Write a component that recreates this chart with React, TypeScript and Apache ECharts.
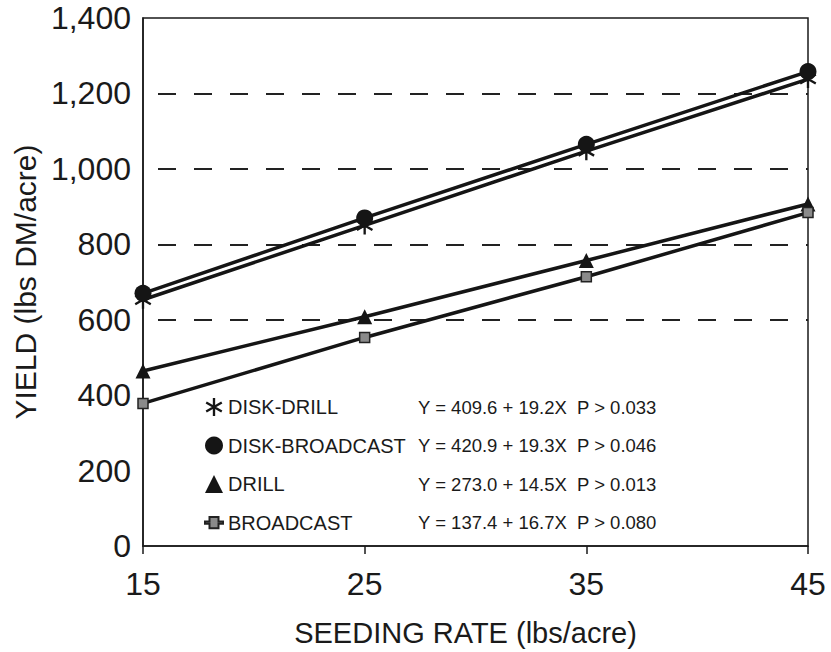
import React, { useEffect, useRef } from "react";
import * as echarts from "echarts";

const xValues = [15, 25, 35, 45];
const seriesNames = ["DISK-DRILL", "DISK-BROADCAST", "DRILL", "BROADCAST"];
const diskDrill = [653, 850, 1047, 1238];
const diskBroadcast = [670, 870, 1065, 1258];
const drill = [464, 608, 757, 907];
const broadcast = [378, 553, 714, 884];
const equations = [
  "Y = 409.6 + 19.2X",
  "Y = 420.9 + 19.3X",
  "Y = 273.0 + 14.5X",
  "Y = 137.4 + 16.7X",
];
const pValues = ["P > 0.033", "P > 0.046", "P > 0.013", "P > 0.080"];
const gridValues = [600, 800, 1000, 1200];

function asteriskPath(): string {
  const L = 10;
  const w = 1.3;
  const parts: string[] = [];
  [90, 30, 150].forEach((deg) => {
    const a = (deg * Math.PI) / 180;
    const dx = Math.cos(a), dy = Math.sin(a);
    const px = -dy * w, py = dx * w;
    const pts = [
      [L * dx + px, L * dy + py],
      [-L * dx + px, -L * dy + py],
      [-L * dx - px, -L * dy - py],
      [L * dx - px, L * dy - py],
    ].map(([x, y]) => `${(x + 12).toFixed(2)},${(y + 12).toFixed(2)}`);
    parts.push(`M${pts[0]} L${pts[1]} L${pts[2]} L${pts[3]} Z`);
  });
  return "path://" + parts.join(" ");
}

const AST = asteriskPath();
const BROAD_ICON = "path://M0,7 L4,7 L4,3 L12,3 L12,7 L16,7 L16,9 L12,9 L12,13 L4,13 L4,9 L0,9 Z";

export default function App() {
  const ref = useRef<HTMLDivElement>(null);
  useEffect(() => {
    if (!ref.current) return;
    const chart = echarts.init(ref.current, undefined, { renderer: "svg" });
    const font = "Liberation Sans, Arial, sans-serif";
    const toData = (vals: number[]) => xValues.map((x, i) => [x, vals[i]]);
    const lineColor = "#151515";
    const option: any = {
      animation: false,
      backgroundColor: "#ffffff",
      textStyle: { fontFamily: font },
      grid: {
        left: 143,
        right: 23,
        top: 18,
        bottom: 106,
        containLabel: false,
        outerBoundsMode: "none",
        show: true,
        borderColor: "#1a1a1a",
        borderWidth: 1.5,
        backgroundColor: "transparent",
      },
      xAxis: {
        type: "value",
        min: 15,
        max: 45,
        interval: 10,
        name: "SEEDING RATE (lbs/acre)",
        nameLocation: "middle",
        nameGap: 72,
        nameTextStyle: { fontSize: 29, color: "#1a1a1a", fontFamily: font, padding: [0, 20, 0, 0] },
        axisLine: { show: true, onZero: false, lineStyle: { color: "#1a1a1a", width: 1.5 } },
        axisTick: { show: true, inside: false, length: 8, lineStyle: { color: "#1a1a1a", width: 1.5 } },
        axisLabel: { fontSize: 32, color: "#1a1a1a", margin: 22, fontFamily: font },
        splitLine: { show: false },
      },
      yAxis: {
        type: "value",
        min: 0,
        max: 1400,
        interval: 200,
        name: "YIELD (lbs DM/acre)",
        nameLocation: "middle",
        nameGap: 100,
        nameRotate: 90,
        nameTextStyle: { fontSize: 30, color: "#1a1a1a", fontFamily: font },
        axisLine: { show: true, lineStyle: { color: "#1a1a1a", width: 1.5 } },
        axisTick: { show: false },
        axisLabel: {
          fontSize: 32,
          color: "#1a1a1a",
          margin: 12,
          fontFamily: font,
          formatter: (v: number) => v.toLocaleString("en-US"),
        },
        splitLine: { show: false },
      },
      legend: {
        orient: "vertical",
        left: 199,
        top: 392,
        itemWidth: 18,
        itemHeight: 18,
        itemGap: 18.5,
        data: [
          { name: seriesNames[0], icon: AST },
          { name: seriesNames[1], icon: "circle" },
          { name: seriesNames[2], icon: "triangle" },
          { name: seriesNames[3], icon: BROAD_ICON },
        ],
        formatter: (name: string) => {
          const i = seriesNames.indexOf(name);
          return `{n|${name}}{e|${equations[i]}}{p|${pValues[i]}}`;
        },
        textStyle: {
          fontSize: 19,
          color: "#1a1a1a",
          fontFamily: font,
          lineHeight: 20,
          rich: {
            n: { width: 190, fontSize: 20, fontFamily: font, color: "#1a1a1a" },
            e: { width: 159, fontSize: 18.5, fontFamily: font, color: "#1a1a1a" },
            p: { fontSize: 18.5, fontFamily: font, color: "#1a1a1a" },
          },
        },
      },
      series: [
        {
          name: seriesNames[0],
          type: "line",
          data: toData(diskDrill),
          symbol: AST,
          symbolSize: 18,
          symbolKeepAspect: true,
          lineStyle: { color: lineColor, width: 3.5 },
          itemStyle: { color: lineColor },
          z: 3,
          markLine: {
            silent: true,
            symbol: "none",
            label: { show: false },
            lineStyle: { color: "#222", width: 2, type: [18, 18], dashOffset: 21 },
            data: gridValues.map((v) => ({ yAxis: v })),
            z: 1,
          },
        },
        {
          name: seriesNames[1],
          type: "line",
          data: toData(diskBroadcast),
          symbol: "circle",
          symbolSize: 17,
          lineStyle: { color: lineColor, width: 3.5 },
          itemStyle: { color: lineColor },
          z: 4,
        },
        {
          name: seriesNames[2],
          type: "line",
          data: toData(drill),
          symbol: "triangle",
          symbolSize: 15,
          lineStyle: { color: lineColor, width: 3.5 },
          itemStyle: { color: lineColor },
          z: 3,
        },
        {
          name: seriesNames[3],
          type: "line",
          data: toData(broadcast),
          symbol: "rect",
          symbolSize: 10,
          lineStyle: { color: lineColor, width: 3.5 },
          itemStyle: { color: "#8a8a8a", borderColor: "#222", borderWidth: 1.5 },
          z: 3,
        },
      ],
    };
    chart.setOption(option);
    return () => chart.dispose();
  }, []);
  return <div ref={ref} style={{ width: 831, height: 652, position: "absolute", left: 0, top: 0 }} />;
}
